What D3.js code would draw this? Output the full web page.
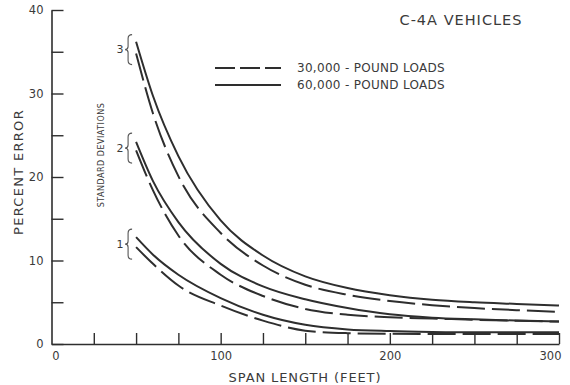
<!DOCTYPE html>
<html>
<head>
<meta charset="utf-8">
<script src="https://cdn.jsdelivr.net/npm/d3@7"></script>
<style>
  body { margin: 0; background: #fff; }
  svg { display: block; }
  text { font-family: "DejaVu Sans", sans-serif; fill: #3a3a3a; }
</style>
</head>
<body>
<svg id="chart" width="570" height="385"></svg>
<script>
// Span lengths (feet) at which the error curves are tabulated
const spanFeet = [50, 60, 75, 100, 125, 150, 175, 200, 225, 250, 275, 300];

// Percent error, 60,000-pound loads (solid), for 1, 2 and 3 standard deviations
const heavy1 = [12.8, 10.7, 8.3, 5.5, 3.5, 2.3, 1.75, 1.55, 1.45, 1.4, 1.4, 1.4];
const heavy2 = [24.2, 19.5, 14.6, 9.6, 6.9, 5.35, 4.3, 3.55, 3.15, 2.95, 2.8, 2.7];
const heavy3 = [36.2, 29.7, 22.5, 14.8, 10.6, 8.1, 6.7, 5.85, 5.3, 5.0, 4.8, 4.6];

// Percent error, 30,000-pound loads (dashed)
const light1 = [11.6, 9.6, 7.0, 4.6, 2.8, 1.6, 1.3, 1.22, 1.2, 1.2, 1.2, 1.2];
const light2 = [23.2, 18.4, 13.0, 8.3, 5.75, 4.2, 3.5, 3.2, 3.05, 2.9, 2.78, 2.68];
const light3 = [34.8, 27.6, 20.1, 13.3, 9.4, 7.1, 5.9, 5.15, 4.65, 4.3, 4.05, 3.85];

const sdLevels = ["1", "2", "3"];
const xTickValues = d3.range(0, 301, 25);
const xLabelValues = [0, 100, 200, 300];
const yTickValues = d3.range(0, 41, 5);
const yLabelValues = [0, 10, 20, 30, 40];
const legendLabels = ["30,000 - POUND LOADS", "60,000 - POUND LOADS"];

const ink = "#2e2e2e";
const svg = d3.select("#chart");

const x = d3.scaleLinear().domain([0, 300]).range([51.5, 559]);
const y = d3.scaleLinear().domain([0, 40]).range([344, 10]);

// Y axis: ticks point inward, labels on every 10
const yAxis = svg.append("g")
  .attr("transform", `translate(${x(0)},0)`)
  .call(d3.axisLeft(y)
    .tickValues(yTickValues)
    .tickSize(-12)
    .tickSizeOuter(0)
    .tickPadding(8)
    .tickFormat(d => yLabelValues.includes(d) ? d : ""));
yAxis.select(".domain").attr("stroke", ink).attr("stroke-width", 1.6);
yAxis.selectAll(".tick line").attr("stroke", ink).attr("stroke-width", 1.4);
yAxis.selectAll(".tick text").attr("font-size", 11.5).attr("fill", "#3a3a3a")
  .attr("font-family", "DejaVu Sans, sans-serif");

// X axis: ticks point inward every 25 ft
const xAxis = svg.append("g")
  .attr("transform", `translate(0,${y(0)})`)
  .call(d3.axisBottom(x)
    .tickValues(xTickValues)
    .tickSize(-11)
    .tickSizeOuter(0)
    .tickPadding(8)
    .tickFormat(d => xLabelValues.includes(d) ? d : ""));
xAxis.select(".domain").attr("stroke", ink).attr("stroke-width", 1.6);
xAxis.selectAll(".tick line").attr("stroke", ink).attr("stroke-width", 1.4)
  .attr("display", d => d === 0 ? "none" : null);
xAxis.selectAll(".tick text").attr("font-size", 11.5).attr("fill", "#3a3a3a")
  .attr("font-family", "DejaVu Sans, sans-serif")
  .attr("dx", d => d === 0 ? 4 : d === 300 ? -9 : 0);

// Curves
const line = d3.line()
  .x((d, i) => x(spanFeet[i]))
  .y(d => y(d))
  .curve(d3.curveMonotoneX);

const series = [
  { values: heavy3, dashed: false }, { values: light3, dashed: true },
  { values: heavy2, dashed: false }, { values: light2, dashed: true },
  { values: heavy1, dashed: false }, { values: light1, dashed: true }
];

svg.append("g").selectAll("path")
  .data(series)
  .join("path")
  .attr("d", d => line(d.values))
  .attr("fill", "none")
  .attr("stroke", ink)
  .attr("stroke-width", 2)
  .attr("stroke-dasharray", d => d.dashed ? "28,7" : null);

// Braces marking each standard-deviation pair
const pairs = [[heavy1, light1], [heavy2, light2], [heavy3, light3]];
const braceG = svg.append("g");
pairs.forEach(([h, l], i) => {
  const mid = (y(h[0]) + y(l[0])) / 2 + 2;
  const top = mid - 15, bot = mid + 15;
  const xr = x(spanFeet[0]) - 4;
  const xs = xr - 4;
  const xt = xs - 3;
  const p = `M${xr},${top} Q${xs},${top} ${xs},${top + 4} L${xs},${mid - 3} ` +
            `Q${xs},${mid} ${xt},${mid} Q${xs},${mid} ${xs},${mid + 3} ` +
            `L${xs},${bot - 4} Q${xs},${bot} ${xr},${bot}`;
  braceG.append("path").attr("d", p).attr("fill", "none")
    .attr("stroke", "#555").attr("stroke-width", 1.1);
  braceG.append("text")
    .attr("x", xt - 5).attr("y", mid)
    .attr("text-anchor", "middle").attr("dominant-baseline", "central")
    .attr("font-size", 11)
    .text(sdLevels[i]);
});

// Rotated note beside the braces
svg.append("text")
  .attr("transform", "translate(104,155) rotate(-90)")
  .attr("text-anchor", "middle")
  .attr("font-size", 8)
  .attr("letter-spacing", 0.5)
  .text("STANDARD DEVIATIONS");

// Axis titles
svg.append("text")
  .attr("transform", "translate(23,172) rotate(-90)")
  .attr("text-anchor", "middle")
  .attr("font-size", 13)
  .attr("letter-spacing", 1.3)
  .text("PERCENT ERROR");

svg.append("text")
  .attr("x", 305).attr("y", 382)
  .attr("text-anchor", "middle")
  .attr("font-size", 13)
  .attr("letter-spacing", 0.9)
  .text("SPAN LENGTH (FEET)");

// Title
svg.append("text")
  .attr("x", 461).attr("y", 25)
  .attr("text-anchor", "middle")
  .attr("font-size", 14.5)
  .attr("letter-spacing", 1)
  .text("C-4A VEHICLES");

// Legend
const legend = svg.append("g");
legendLabels.forEach((lab, i) => {
  const ly = 68 + i * 17;
  legend.append("line")
    .attr("x1", 215).attr("x2", 281).attr("y1", ly).attr("y2", ly)
    .attr("stroke", ink).attr("stroke-width", 1.8)
    .attr("stroke-dasharray", i === 0 ? "20,5" : null);
  legend.append("text")
    .attr("x", 297).attr("y", ly)
    .attr("dominant-baseline", "central")
    .attr("font-size", 12)
    .attr("letter-spacing", 0.3)
    .text(lab);
});
</script>
</body>
</html>
